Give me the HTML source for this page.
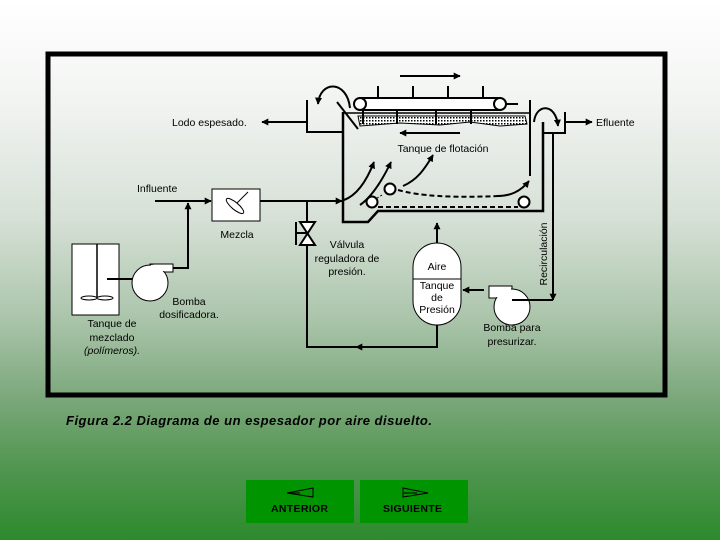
<!DOCTYPE html>
<html><head><meta charset="utf-8"><style>
html,body{margin:0;padding:0}
body{width:720px;height:540px;overflow:hidden;background:linear-gradient(to bottom,#ffffff 0px,#f2f4f2 100px,#d6e0d6 220px,#aac4aa 320px,#7aa77a 400px,#4f954f 470px,#2d8a2d 540px);font-family:"Liberation Sans",sans-serif;position:relative}
svg{position:absolute;left:0;top:0}
text{font-family:"Liberation Sans",sans-serif;font-size:10.5px;fill:#000}
.btn{position:absolute;top:480px;width:108px;height:43px;background:#009400}
</style></head><body>
<div class="btn" style="left:246px"></div>
<div class="btn" style="left:360px"></div>
<svg width="720" height="540" viewBox="0 0 720 540">
<defs>
<marker id="a" viewBox="0 0 10 10" refX="9" refY="5" markerWidth="7" markerHeight="7" orient="auto-start-reverse" markerUnits="userSpaceOnUse"><path d="M0,0 L10,5 L0,10 z" fill="#000"/></marker>
<pattern id="dots" width="3" height="3" patternUnits="userSpaceOnUse"><rect width="3" height="3" fill="#fff"/><rect width="1.5" height="1.5" fill="#000"/></pattern>
</defs>
<rect x="48" y="54" width="617" height="341" fill="none" stroke="#000" stroke-width="5"/>
<g stroke="#000" fill="none" stroke-width="2">
<line x1="400" y1="76" x2="460" y2="76" marker-end="url(#a)"/>
<line x1="378" y1="86" x2="378" y2="98"/><line x1="413" y1="86" x2="413" y2="98"/><line x1="448" y1="86" x2="448" y2="98"/><line x1="483" y1="86" x2="483" y2="98"/>
<path d="M358,116 L525,116 L527,124 L500,126 L470,122 L440,125 L400,123 L360,126 Z" fill="url(#dots)" stroke-width="1"/>
<line x1="397" y1="110" x2="397" y2="124"/><line x1="436" y1="110" x2="436" y2="124"/><line x1="471" y1="110" x2="471" y2="124"/><line x1="363" y1="110" x2="363" y2="124"/>
<rect x="360" y="98" width="140" height="12" fill="#fff"/>
<circle cx="360" cy="104" r="6" fill="#fff"/><circle cx="500" cy="104" r="6" fill="#fff"/>
<line x1="506" y1="104" x2="518" y2="104"/>
<line x1="337" y1="102" x2="358" y2="129"/>
<polyline points="343,112 343,222 368,222 378,211 543,211 543,122" stroke-width="2.5"/>
<line x1="530" y1="100" x2="530" y2="176"/>
<line x1="343" y1="113" x2="530" y2="113" stroke-width="1.5"/>
<polyline points="307,100 307,132 343,132"/>
<line x1="307" y1="122" x2="262" y2="122" marker-end="url(#a)"/>
<path d="M350,108 C347,80 320,80 318,104" marker-end="url(#a)"/>
<polyline points="543,133 565,133 565,112"/>
<line x1="565" y1="122" x2="592" y2="122" marker-end="url(#a)"/>
<path d="M534,122 C536,103 556,103 558,126" marker-end="url(#a)"/>
<line x1="460" y1="133" x2="400" y2="133" marker-end="url(#a)"/>
<path d="M344,200 C355,196 365,185 374,162" marker-end="url(#a)"/>
<path d="M360,205 C370,198 380,185 391,162" marker-end="url(#a)"/>
<path d="M403,186 C417,180 424,170 433,155" marker-end="url(#a)"/>
<path d="M497,196 C510,196 520,192 529,181" marker-end="url(#a)"/>
<line x1="382" y1="195" x2="374" y2="200" stroke-dasharray="2,2" stroke-width="1"/>
<path d="M398,190 C420,196 450,198 500,196" stroke-dasharray="5,3"/>
<line x1="378" y1="207" x2="518" y2="207" stroke-dasharray="5,3"/>
<circle cx="390" cy="189" r="5.5" fill="#fff"/><circle cx="372" cy="202" r="5.5" fill="#fff"/><circle cx="524" cy="202" r="5.5" fill="#fff"/>
<line x1="155" y1="201" x2="211" y2="201" marker-end="url(#a)"/>
<line x1="260" y1="201" x2="342" y2="201" marker-end="url(#a)"/>
<polyline points="173,268 188,268 188,203" marker-end="url(#a)"/>
<rect x="212" y="189" width="48" height="32" fill="#fff" stroke-width="1"/>
<line x1="232" y1="208" x2="248" y2="192" stroke-width="1"/>
<ellipse cx="235" cy="206" rx="11" ry="3.5" transform="rotate(40 235 206)" fill="#fff" stroke-width="1"/>
<rect x="72" y="244" width="47" height="71" fill="#fff" stroke-width="1"/>
<line x1="97" y1="244" x2="97" y2="297" stroke-width="1.5"/>
<ellipse cx="89" cy="298" rx="8" ry="2" fill="#fff" stroke-width="1"/><ellipse cx="105" cy="298" rx="8" ry="2" fill="#fff" stroke-width="1"/>
<line x1="107" y1="279" x2="141" y2="279" marker-end="url(#a)"/>
<rect x="150" y="264" width="23" height="8" fill="#fff" stroke-width="1"/>
<circle cx="150" cy="283" r="18" fill="#fff" stroke-width="1"/>
<rect x="151" y="265" width="21" height="6" fill="#fff" stroke="none"/>
<polyline points="307,201 307,347 437,347 437,325"/>
<line x1="380" y1="347" x2="356" y2="347" marker-end="url(#a)"/>
<path d="M300,222 L315,222 L300,245 L315,245 Z" fill="#fff"/>
<line x1="296" y1="222" x2="296" y2="245"/><line x1="296" y1="233" x2="307" y2="233"/>
<path d="M413,279 L413,267 A24,24 0 0 1 461,267 L461,301 A24,24 0 0 1 413,301 Z" fill="#fff" stroke-width="1"/>
<line x1="413" y1="279" x2="461" y2="279" stroke-width="1"/>
<line x1="437" y1="243" x2="437" y2="223" marker-end="url(#a)"/>
<line x1="484" y1="290" x2="463" y2="290" marker-end="url(#a)"/>
<rect x="489" y="286" width="23" height="12" fill="#fff" stroke-width="1"/>
<circle cx="512" cy="307" r="18" fill="#fff" stroke-width="1"/>
<rect x="490" y="287" width="21" height="10" fill="#fff" stroke="none"/>
<polyline points="512,300 553,300"/>
<line x1="553" y1="133" x2="553" y2="300" marker-end="url(#a)"/>
<path d="M313,488 L313,497 L287,493 Z M287,493 L300,493" stroke-width="1"/>
<path d="M403,488 L403,497 L428,493 Z M417,493 L403,493" stroke-width="1"/>
</g>
<text x="172" y="126">Lodo espesado.</text>
<text x="596" y="126">Efluente</text>
<text x="443" y="152" text-anchor="middle">Tanque de flotación</text>
<text x="137" y="192">Influente</text>
<text x="237" y="238" text-anchor="middle">Mezcla</text>
<text x="347" y="248" text-anchor="middle">Válvula</text>
<text x="347" y="262" text-anchor="middle">reguladora de</text>
<text x="347" y="275" text-anchor="middle">presión.</text>
<text x="437" y="270" text-anchor="middle" font-size="10">Aire</text>
<text x="437" y="289" text-anchor="middle" font-size="10">Tanque</text>
<text x="437" y="301" text-anchor="middle" font-size="10">de</text>
<text x="437" y="313" text-anchor="middle" font-size="10">Presión</text>
<text x="189" y="305" text-anchor="middle">Bomba</text>
<text x="189" y="318" text-anchor="middle">dosificadora.</text>
<text x="112" y="327" text-anchor="middle">Tanque de</text>
<text x="112" y="341" text-anchor="middle">mezclado</text>
<text x="112" y="354" text-anchor="middle" font-style="italic">(polímeros).</text>
<text x="512" y="331" text-anchor="middle">Bomba para</text>
<text x="512" y="345" text-anchor="middle">presurizar.</text>
<text x="547" y="254" text-anchor="middle" transform="rotate(-90 547 254)">Recirculación</text>
<text x="66" y="425" font-style="italic" font-weight="bold" style="font-size:13px" textLength="366" lengthAdjust="spacing">Figura 2.2 Diagrama de un espesador por aire disuelto.</text>
<text x="271" y="512" font-size="10" font-weight="bold" textLength="57" lengthAdjust="spacing">ANTERIOR</text>
<text x="383" y="512" font-size="10" font-weight="bold" textLength="59" lengthAdjust="spacing">SIGUIENTE</text>
</svg>
</body></html>
